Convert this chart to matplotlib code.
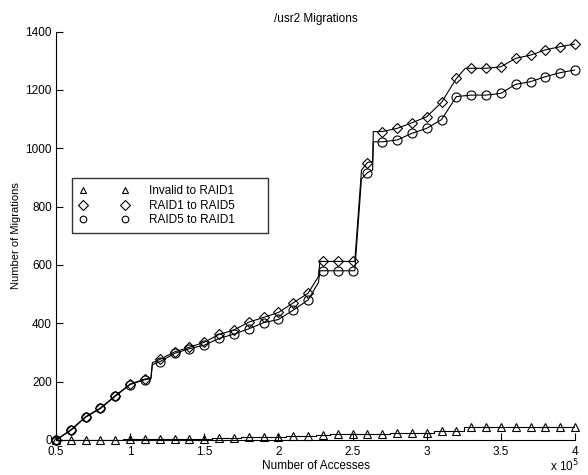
import numpy as np
import matplotlib
matplotlib.use("Agg")
import matplotlib.pyplot as plt
from matplotlib.lines import Line2D

plt.rcParams['font.family'] = ['Liberation Sans', 'DejaVu Sans']

# x in units of 10^5 accesses (marker positions)
accesses = np.round(np.arange(0.5, 4.001, 0.1), 1)

invalid_to_raid1 = [0, 1, 1, 1, 1, 2, 2, 4, 4, 4, 4, 6, 6, 10, 10, 10, 14, 15,
                    17, 19, 20, 20, 20, 23, 23, 23, 32, 32, 46, 46, 46, 46, 46,
                    46, 46, 46]
raid1_to_raid5 = [0, 35, 80, 110, 152, 192, 209, 276, 302, 318, 335, 362, 377,
                  404, 420, 437, 470, 503, 612, 612, 612, 951, 1057, 1068, 1087,
                  1108, 1157, 1239, 1274, 1274, 1279, 1308, 1319, 1337, 1348, 1357]
raid5_to_raid1 = [0, 33, 78, 108, 150, 190, 207, 268, 297, 313, 325, 348, 363,
                  381, 402, 413, 445, 480, 580, 580, 580, 916, 1022, 1028, 1051,
                  1068, 1098, 1177, 1182, 1182, 1188, 1219, 1228, 1245, 1259, 1268]

# extra break points of the traced curves (between markers)
raid1_to_raid5_extra_x = [1.14, 1.15, 2.27, 2.28, 2.515, 2.56, 2.635, 2.64, 3.26]
raid1_to_raid5_extra_y = [212, 265, 560, 612, 612, 925, 955, 1057, 1274]
raid5_to_raid1_extra_x = [1.14, 1.15, 2.27, 2.28, 2.515, 2.56, 2.635, 2.64]
raid5_to_raid1_extra_y = [210, 258, 540, 580, 580, 895, 925, 1022]

labels = ['Invalid to RAID1', 'RAID1 to RAID5', 'RAID5 to RAID1']
markers = ['^', 'D', 'o']
msizes = [6.0, 5.0, 6.5]

fig = plt.figure(figsize=(5.88, 4.75), dpi=100)
ax = fig.add_axes([56/588, 1-440/475, (575-56)/588, (440-31.5)/475])


def trace(xm, ym, xe, ye):
    x = np.concatenate([xm, xe])
    y = np.concatenate([ym, ye])
    o = np.argsort(x, kind='stable')
    return x[o], y[o]


# lines
ax.plot(accesses, invalid_to_raid1, color='black', lw=0.8, drawstyle='steps-mid')
for ym, xe, ye in [(raid1_to_raid5, raid1_to_raid5_extra_x, raid1_to_raid5_extra_y),
                   (raid5_to_raid1, raid5_to_raid1_extra_x, raid5_to_raid1_extra_y)]:
    tx, ty = trace(np.array(accesses, float), np.array(ym, float),
                   np.array(xe, float), np.array(ye, float))
    ax.plot(tx, ty, color='black', lw=0.8)

# markers
for data, m, ms in zip([invalid_to_raid1, raid1_to_raid5, raid5_to_raid1], markers, msizes):
    ax.plot(accesses, data, linestyle='none', marker=m, ms=ms,
            mfc='none', mec='black', mew=0.8, clip_on=False)

ax.set_xlim(0.5, 4)
ax.set_ylim(0, 1400)
ax.set_xticks(np.arange(0.5, 4.01, 0.5))
ax.set_xticklabels(['0.5', '1', '1.5', '2', '2.5', '3', '3.5', '4'])
ax.set_yticks(np.arange(0, 1401, 200))
ax.tick_params(direction='in', length=5, width=0.8, labelsize=8.5, colors='black')
ax.tick_params(axis='x', pad=4)
ax.tick_params(axis='y', pad=3)
for s in ['top', 'right']:
    ax.spines[s].set_visible(False)
for s in ['left', 'bottom']:
    ax.spines[s].set_linewidth(0.8)

ax.set_title('/usr2 Migrations', fontsize=8.5, pad=7)
ax.set_xlabel('Number of Accesses', fontsize=8.5, labelpad=2)
ax.set_ylabel('Number of Migrations', fontsize=8, labelpad=3)
fig.text(550/588, 1-466/475, 'x 10$^5$', fontsize=8.5, ha='left', va='center')

handles = [Line2D([], [], linestyle='none', marker=m, ms=4.8, mfc='none', mec='black', mew=0.8)
           for m in markers]
x0 = (72-56)/519
y1 = (440-178)/408.5
w = (268-72)/519
h = (236-178)/408.5
leg = ax.legend(handles, labels, numpoints=2, loc='upper left',
                bbox_to_anchor=(x0, y1 - h, w, h), mode='expand', fontsize=8.5,
                frameon=True, fancybox=False, edgecolor='black', handlelength=4.16,
                handletextpad=1.8, borderpad=0.6, labelspacing=0.22, borderaxespad=0)
leg.get_frame().set_linewidth(1.0)

fig.savefig('out.png', dpi=100)
